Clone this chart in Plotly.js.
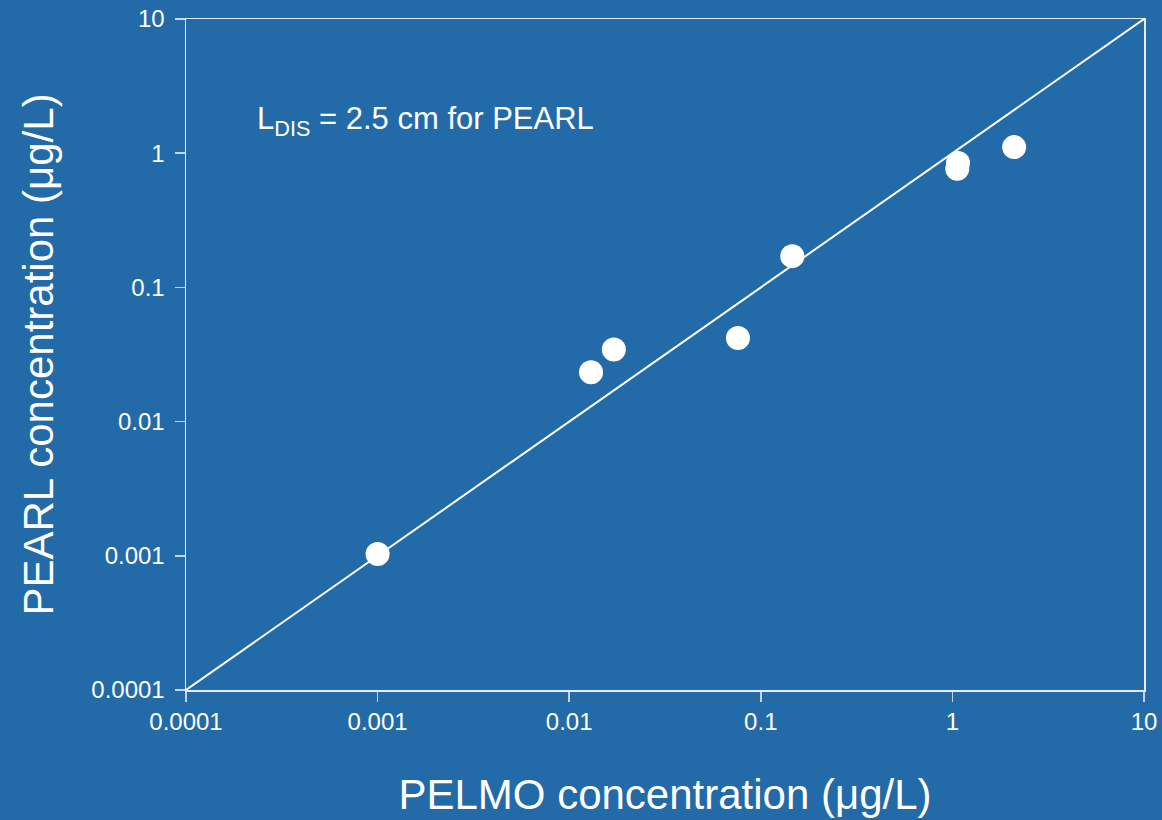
<!DOCTYPE html>
<html><head><meta charset="utf-8">
<script src="https://cdn.plot.ly/plotly-3.0.1.min.js"></script>
<style>html,body{margin:0;padding:0;background:#236aa8;}#chart{width:1162px;height:820px;}</style>
</head><body><div id="chart"></div>
<script>
const pelmo = [0.001, 0.0130, 0.0171, 0.076, 0.146, 1.06, 1.07, 2.10];
const pearl = [0.00103, 0.0233, 0.0345, 0.042, 0.171, 0.765, 0.845, 1.11];
const tickVals = [0.0001, 0.001, 0.01, 0.1, 1, 10];
const tickLabels = ["0.0001", "0.001", "0.01", "0.1", "1", "10"];
const lineX = [0.0001, 10];
const lineY = [0.0001, 10];

const bg = '#236aa8';
const font = 'Liberation Sans, Arial, sans-serif';
const data = [
  {x: lineX, y: lineY, mode: 'lines', line: {color: '#ffffff', width: 2}, hoverinfo: 'skip'},
  {x: pelmo, y: pearl, mode: 'markers', marker: {color: '#ffffff', size: 24}}
];
const axisCommon = {
  type: 'log', tickmode: 'array', tickvals: tickVals, ticktext: tickLabels,
  showgrid: false, zeroline: false, showline: true, linecolor: '#e6ecf4', linewidth: 1.5,
  mirror: true, ticks: 'outside', ticklen: 10, tickcolor: '#c8d4e6', tickwidth: 1.5,
  tickfont: {family: font, size: 24, color: '#ffffff'}
};
const layout = {
  width: 1162, height: 820,
  paper_bgcolor: bg, plot_bgcolor: bg,
  showlegend: false,
  margin: {l: 186, r: 18, t: 19, b: 130},
  xaxis: Object.assign({}, axisCommon, {
    range: [-4, 1],
    title: {text: 'PELMO concentration (μg/L)', font: {family: font, size: 42, color: '#ffffff'}, standoff: 45}
  }),
  yaxis: Object.assign({}, axisCommon, {
    range: [-4, 1],
    ticklabelstandoff: 5,
    title: {text: 'PEARL concentration (μg/L)', font: {family: font, size: 42, color: '#ffffff'}, standoff: 24}
  }),
  annotations: [{
    xref: 'paper', yref: 'paper', x: 0.072, y: 0.848, xanchor: 'left', yanchor: 'middle',
    showarrow: false,
    text: 'L<sub>DIS</sub> = 2.5 cm for PEARL',
    font: {family: font, size: 31, color: '#ffffff'}
  }]
};
Plotly.newPlot('chart', data, layout, {displayModeBar: false, staticPlot: true});
</script></body></html>
